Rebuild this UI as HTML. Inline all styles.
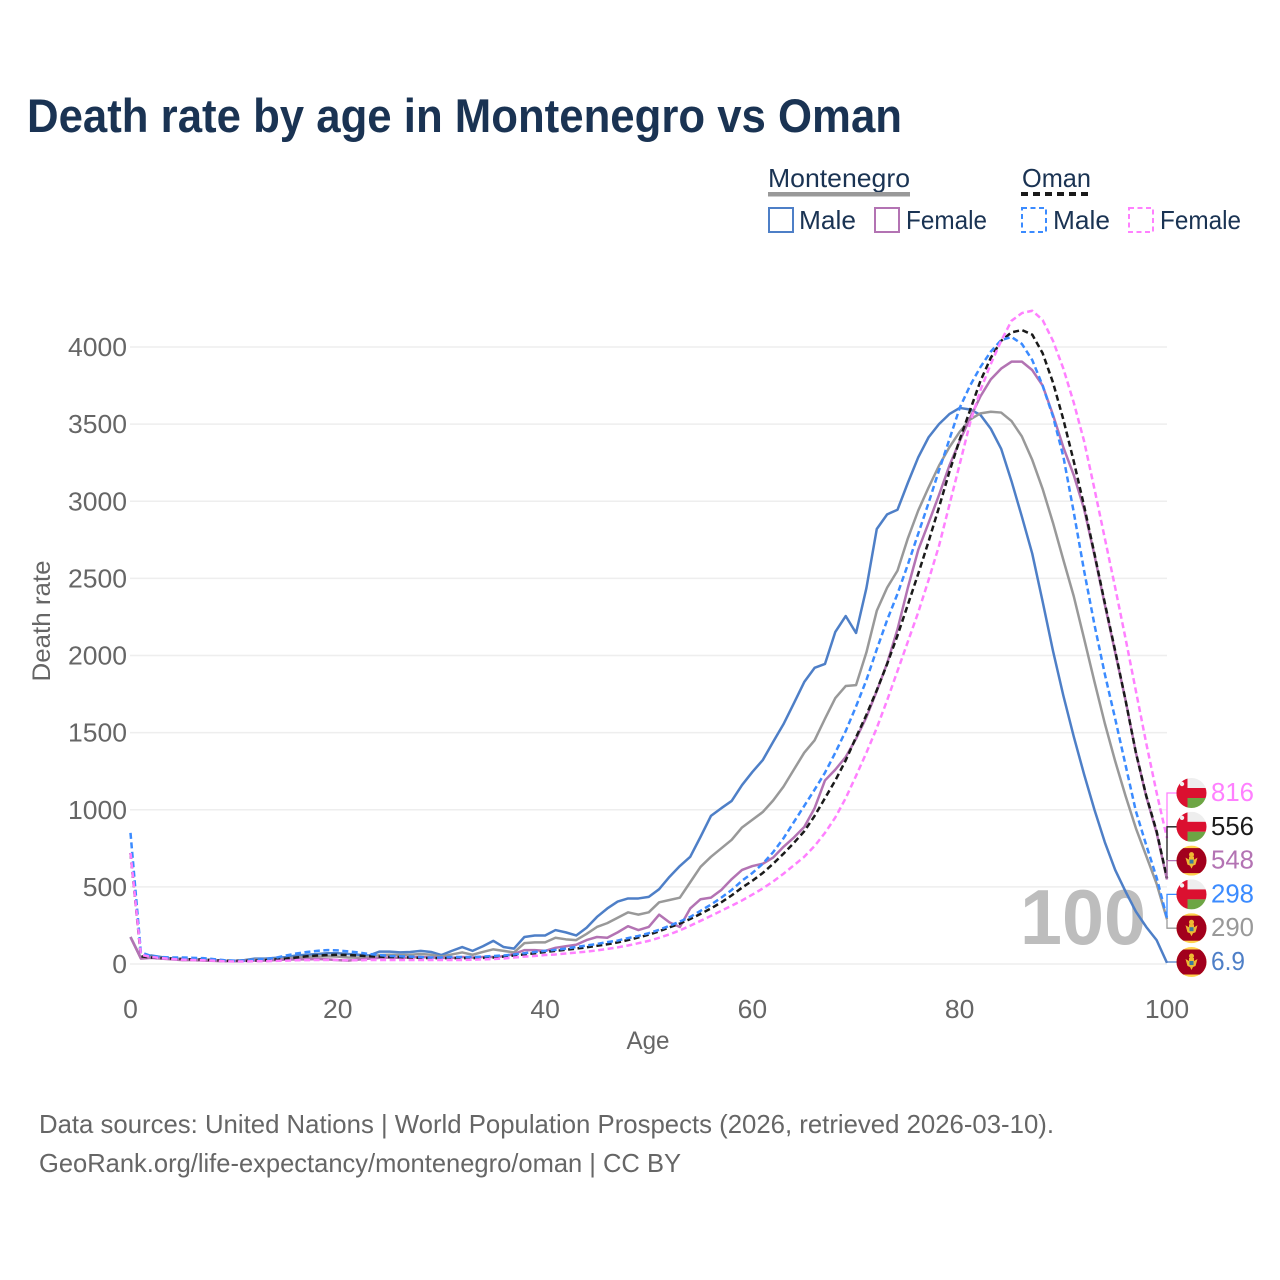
<!DOCTYPE html>
<html lang="en">
<head>
<meta charset="utf-8">
<title>Death rate by age in Montenegro vs Oman</title>
<style>
html,body{margin:0;padding:0;background:#fff;}
svg{display:block;font-family:"Liberation Sans",sans-serif;}
</style>
</head>
<body>
<svg id="chart" xmlns="http://www.w3.org/2000/svg" width="1280" height="1280" viewBox="0 0 1280 1280">
  <rect x="0" y="0" width="1280" height="1280" fill="#fff"/>
  <text x="27" y="132" font-size="47" font-weight="bold" fill="#1a3353" textLength="875" lengthAdjust="spacingAndGlyphs">Death rate by age in Montenegro vs Oman</text>

  <g font-size="26" fill="#1a3353">
    <text x="768" y="187" textLength="142" lengthAdjust="spacingAndGlyphs">Montenegro</text>
    <rect x="768" y="192" width="142" height="4.5" fill="#999"/>
    <text x="1022" y="187" textLength="69" lengthAdjust="spacingAndGlyphs">Oman</text>
    <line x1="1021" y1="194" x2="1091" y2="194" stroke="#1a1a1a" stroke-width="4" stroke-dasharray="7 5"/>
    <rect x="769" y="208" width="24" height="24" fill="none" stroke="#4e7fc7" stroke-width="2"/>
    <text x="799" y="229" textLength="57" lengthAdjust="spacingAndGlyphs">Male</text>
    <rect x="875" y="208" width="24" height="24" fill="none" stroke="#b373b3" stroke-width="2"/>
    <text x="906" y="229" textLength="81" lengthAdjust="spacingAndGlyphs">Female</text>
    <rect x="1022" y="208" width="24" height="24" fill="none" stroke="#3b8bff" stroke-width="2" stroke-dasharray="5 3.5"/>
    <text x="1053" y="229" textLength="57" lengthAdjust="spacingAndGlyphs">Male</text>
    <rect x="1129" y="208" width="24" height="24" fill="none" stroke="#ff80ff" stroke-width="2" stroke-dasharray="5 3.5"/>
    <text x="1160" y="229" textLength="81" lengthAdjust="spacingAndGlyphs">Female</text>
  </g>

  <g id="grid"></g>
  <g id="ticks" font-size="26" fill="#666"></g>
  <text x="0" y="0" transform="translate(50,621) rotate(-90)" text-anchor="middle" font-size="25" fill="#666" textLength="121" lengthAdjust="spacingAndGlyphs">Death rate</text>
  <text x="648" y="1049" text-anchor="middle" font-size="25" fill="#666" textLength="43" lengthAdjust="spacingAndGlyphs">Age</text>
  <text x="1020" y="944" font-size="78" font-weight="bold" fill="#bdbdbd" textLength="126" lengthAdjust="spacingAndGlyphs">100</text>
  <g id="series" fill="none" stroke-width="2.5" stroke-linejoin="round"></g>
  <g id="ends" font-size="26"></g>

  <text x="39" y="1133" font-size="26" fill="#666" textLength="1015" lengthAdjust="spacingAndGlyphs">Data sources: United Nations | World Population Prospects (2026, retrieved 2026-03-10).</text>
  <text x="39" y="1172" font-size="26" fill="#666" textLength="642" lengthAdjust="spacingAndGlyphs">GeoRank.org/life-expectancy/montenegro/oman | CC BY</text>
</svg>
<script>
var ages = [];
for (var a = 0; a <= 100; a++) ages.push(a);
var yTickLabels = [0, 500, 1000, 1500, 2000, 2500, 3000, 3500, 4000];
var xTickLabels = [0, 20, 40, 60, 80, 100];

var montenegroMale = [175,40,55,45,35,32,30,28,25,20,20,25,35,35,40,45,55,60,65,70,70,65,60,55,80,80,75,78,85,78,58,85,110,85,115,150,110,100,175,185,185,220,205,185,235,305,360,405,425,425,435,485,565,635,695,825,960,1010,1057,1160,1245,1322,1440,1555,1690,1828,1920,1945,2153,2256,2146,2437,2820,2915,2945,3120,3285,3415,3500,3565,3605,3595,3560,3470,3340,3130,2900,2660,2350,2030,1740,1475,1230,1000,790,610,470,340,240,155,7];
var montenegroFemale = [175,35,40,35,30,25,25,22,20,18,18,20,22,22,25,28,30,30,32,30,25,22,28,35,40,42,40,42,45,42,40,40,45,42,45,45,50,65,90,90,85,105,115,125,155,175,170,205,245,220,240,320,270,240,360,420,430,480,550,610,635,650,690,760,820,888,1010,1190,1260,1342,1460,1600,1770,1950,2170,2440,2684,2860,3040,3230,3390,3540,3680,3790,3860,3905,3905,3850,3750,3560,3350,3170,2950,2650,2330,2020,1710,1370,1085,850,548];
var montenegroTotal = [175,38,45,38,32,28,28,25,22,18,18,22,28,28,32,35,42,45,48,50,48,42,42,45,58,60,58,60,65,60,48,62,75,60,78,95,85,75,135,140,140,170,160,155,195,240,265,300,335,320,335,400,415,430,530,630,695,750,805,885,935,985,1060,1150,1260,1370,1450,1590,1724,1802,1808,2020,2290,2440,2550,2760,2940,3090,3230,3350,3450,3530,3570,3580,3575,3520,3420,3268,3080,2860,2620,2385,2110,1830,1560,1315,1090,880,700,520,290];
var omanTotal = [720,50,42,38,35,32,30,28,25,22,20,20,22,25,30,35,42,50,55,58,60,58,55,50,48,45,45,42,40,38,38,38,38,38,40,42,48,55,62,70,78,85,92,100,108,118,128,140,155,172,190,212,238,262,292,325,360,400,445,495,540,590,650,715,785,860,960,1075,1190,1320,1470,1615,1775,1945,2130,2330,2530,2740,2960,3190,3400,3590,3780,3930,4040,4095,4110,4080,3960,3770,3530,3260,2970,2660,2340,2030,1710,1370,1090,860,556];
var omanMale = [850,75,52,45,42,42,40,38,32,25,22,22,28,32,40,55,68,78,85,90,88,82,75,65,58,52,50,48,45,42,42,45,45,45,48,52,55,62,70,78,85,92,100,110,120,130,142,152,168,182,200,222,248,275,305,345,385,430,480,540,590,650,725,815,920,1025,1130,1240,1370,1510,1670,1841,2040,2230,2400,2590,2790,2990,3200,3400,3605,3750,3870,3970,4045,4065,4020,3915,3750,3550,3290,2930,2550,2200,1880,1590,1290,990,770,560,298];
var omanFemale = [720,60,45,38,32,28,26,24,22,18,16,16,18,18,20,22,24,25,26,26,26,24,24,26,26,26,26,26,26,26,26,26,26,28,30,32,36,42,48,52,58,62,68,74,80,88,98,108,120,135,150,170,192,218,248,280,312,345,378,412,450,490,535,585,640,695,765,850,950,1075,1220,1370,1530,1710,1900,2090,2280,2490,2710,2975,3240,3508,3720,3890,4040,4170,4220,4235,4175,4040,3860,3640,3390,3080,2760,2440,2110,1770,1430,1110,816];

var endLabelTexts = ["816", "556", "548", "298", "290", "6.9"];

var NS = "http://www.w3.org/2000/svg";
function xScale(age) { return 130.5 + age * 10.365; }
function yScale(v) { return 964 - v * 0.15425; }
function mk(tag, parent) {
  var el = document.createElementNS(NS, tag);
  parent.appendChild(el);
  return el;
}
function attrs(el, o) { for (var k in o) el.setAttribute(k, o[k]); return el; }

var gridG = document.getElementById("grid");
var ticksG = document.getElementById("ticks");
yTickLabels.forEach(function (v) {
  var line = attrs(mk("line", gridG), { x1: 130, x2: 1167, y1: yScale(v), y2: yScale(v), stroke: "#eeeeee", "stroke-width": 1.6 });
  
  
  var t = attrs(mk("text", ticksG), { x: 127, y: yScale(v) + 9, "text-anchor": "end", textLength: String(v).length * 14.75, lengthAdjust: "spacingAndGlyphs" });
  
  
  t.textContent = v;
});
xTickLabels.forEach(function (v) {
  var t = attrs(mk("text", ticksG), { x: xScale(v), y: 1018, "text-anchor": "middle", textLength: String(v).length * 14.75, lengthAdjust: "spacingAndGlyphs" });
  
  
  t.textContent = v;
});

function drawSeries(values, color, dash, name) {
  var d = values.map(function (v, i) {
    return (i ? "L" : "M") + xScale(ages[i]).toFixed(2) + " " + yScale(v).toFixed(2);
  }).join("");
  var p = attrs(mk("path", document.getElementById("series")), { d: d, stroke: color });
  if (dash) p.setAttribute("stroke-dasharray", dash);
  
  
}
drawSeries(montenegroMale, "#4e7fc7", null, "line-montenegro-male");
drawSeries(montenegroTotal, "#999999", null, "line-montenegro-total");
drawSeries(montenegroFemale, "#b373b3", null, "line-montenegro-female");
drawSeries(omanTotal, "#1a1a1a", "6 3.5", "line-oman-total");
drawSeries(omanMale, "#3b8bff", "6 3.5", "line-oman-male");
drawSeries(omanFemale, "#ff80ff", "6 3.5", "line-oman-female");

var endG = document.getElementById("ends");
var defs = mk("defs", endG);
var clip = attrs(mk("clipPath", defs), { id: "flag-clip" });
attrs(mk("circle", clip), { cx: 0, cy: 0, r: 15 });

function drawFlag(cy, kind) {
  var g = attrs(mk("g", endG), { transform: "translate(1191.5," + cy + ")", "clip-path": "url(#flag-clip)" });
  
  
  if (kind === "oman") {
    attrs(mk("rect", g), { x: -15, y: -15, width: 30, height: 10, fill: "#eeeeee" });
    attrs(mk("rect", g), { x: -15, y: -5, width: 30, height: 10, fill: "#db1030" });
    attrs(mk("rect", g), { x: -15, y: 5, width: 30, height: 10, fill: "#6da544" });
    attrs(mk("rect", g), { x: -15, y: -15, width: 11, height: 30, fill: "#db1030" });
    attrs(mk("circle", g), { cx: -9.5, cy: -9, r: 2.2, fill: "#f2f2f2" });
  } else {
    attrs(mk("rect", g), { x: -15, y: -15, width: 30, height: 30, fill: "#ffd34d" });
    attrs(mk("rect", g), { x: -15, y: -12.5, width: 30, height: 25, fill: "#a2001d" });
    attrs(mk("path", g), { d: "M-6 -3L-2.5 -1L-2.5 -4L2.5 -4L2.5 -1L6 -3L4 4L1.5 5L0 8L-1.5 5L-4 4Z", fill: "#eebb33" });
    attrs(mk("circle", g), { cx: 0, cy: -6, r: 2.5, fill: "#eebb33" });
    attrs(mk("rect", g), { x: -2, y: -1, width: 4, height: 4, fill: "#3a7a9c" });
  }
}

var endSeries = [
  { v: omanFemale, color: "#ff80ff", flag: "oman" },
  { v: omanTotal, color: "#1a1a1a", flag: "oman" },
  { v: montenegroFemale, color: "#b373b3", flag: "montenegro" },
  { v: omanMale, color: "#3b8bff", flag: "oman" },
  { v: montenegroTotal, color: "#999999", flag: "montenegro" },
  { v: montenegroMale, color: "#4e7fc7", flag: "montenegro" }
];
endSeries.forEach(function (s, i) {
  var slot = 793 + i * 33.8;
  var endY = yScale(s.v[s.v.length - 1]);
  var conn = attrs(mk("polyline", endG), { points: "1177," + slot + " 1167," + slot + " 1167," + endY, fill: "none", stroke: s.color, "stroke-width": 1.3 });
  
  
  drawFlag(slot, s.flag);
  var t = attrs(mk("text", endG), { x: 1211, y: slot + 8, fill: s.color, textLength: endLabelTexts[i].length === 3 && endLabelTexts[i].indexOf(".") < 0 ? 43 : 34, lengthAdjust: "spacingAndGlyphs" });
  
  
  t.textContent = endLabelTexts[i];
});
</script>
</body>
</html>
